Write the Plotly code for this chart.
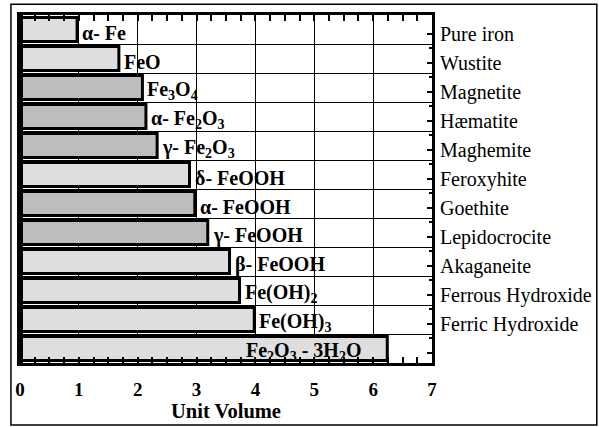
import plotly.graph_objects as go

formulas = ["α- Fe", "FeO", "Fe<sub>3</sub>O<sub>4</sub>", "α- Fe<sub>2</sub>O<sub>3</sub>",
            "γ- Fe<sub>2</sub>O<sub>3</sub>", "δ- FeOOH", "α- FeOOH", "γ- FeOOH",
            "β- FeOOH", "Fe(OH)<sub>2</sub>", "Fe(OH)<sub>3</sub>",
            "Fe<sub>2</sub>O<sub>3</sub> - 3H<sub>2</sub>O"]
names = ["Pure iron", "Wustite", "Magnetite", "Hæmatite", "Maghemite", "Feroxyhite",
         "Goethite", "Lepidocrocite", "Akaganeite", "Ferrous Hydroxide",
         "Ferric Hydroxide", ""]
volumes = [0.97, 1.68, 2.08, 2.14, 2.33, 2.88, 2.97, 3.19, 3.56, 3.73, 3.98, 6.24]
shade = ["light", "light", "dark", "dark", "dark", "light", "dark", "dark",
         "light", "light", "light", "light"]

LIGHT = "#dedede"
DARK = "#bdbdbd"
FONT = "Liberation Serif"

rows = list(range(len(volumes)))
colors = [LIGHT if s == "light" else DARK for s in shade]

fig = go.Figure()
fig.add_trace(go.Bar(
    x=volumes, y=rows, orientation="h", width=0.82,
    marker=dict(color=colors, line=dict(color="black", width=3)),
    showlegend=False, hoverinfo="skip",
))
fig.add_trace(go.Scatter(x=[None], y=[None], yaxis="y2", showlegend=False))

for i, (v, f) in enumerate(zip(volumes, formulas)):
    last = i == len(volumes) - 1
    fig.add_annotation(
        x=v, y=i, xref="x", yref="y", text="<b>" + f + "</b>", showarrow=False,
        xanchor="right" if last else "left", xshift=-24 if last else 3, yshift=-3,
        font=dict(family=FONT, size=20, color="black"),
    )

# plot area: x 20..432 px, y 15..363 px
fig.add_shape(type="rect", xref="paper", yref="paper",
              x0=-0.022, x1=1.4, y0=-0.178, y1=1.031,
              line=dict(color="black", width=1.5), fillcolor="rgba(0,0,0,0)")
fig.add_shape(type="line", xref="paper", yref="paper", x0=0, x1=0, y0=0, y1=1,
              line=dict(color="black", width=6))

rng = [len(volumes) - 0.5, -0.5]
rng2 = [len(volumes) - 0.64, -0.64]
fig.update_layout(
    width=599, height=427,
    margin=dict(l=20, r=167, t=15, b=64, autoexpand=False),
    paper_bgcolor="white", plot_bgcolor="white",
    font=dict(family=FONT, color="black"),
    xaxis=dict(
        range=[0, 7], tickvals=list(range(8)), showgrid=True, gridcolor="black",
        gridwidth=1.3, zeroline=False, showline=True, linecolor="black", linewidth=3,
        mirror="allticks", ticks="inside", ticklen=6, tickwidth=2, tickcolor="black",
        minor=dict(dtick=0.25, ticks="inside", ticklen=3, tickwidth=2, tickcolor="black",
                   showgrid=False),
        tickfont=dict(family=FONT, size=19, color="black", weight="bold"),
        ticklabelstandoff=7,
        title=dict(text="Unit Volume",
                   font=dict(family=FONT, size=20.5, color="black", weight="bold"),
                   standoff=2),
        automargin=False,
    ),
    yaxis=dict(
        range=rng, tickvals=[r + 0.5 for r in rows[:-1]], showticklabels=False,
        showgrid=True, gridcolor="black", gridwidth=1.3, zeroline=False,
        showline=True, linecolor="black", linewidth=3, mirror=True,
        ticks="", fixedrange=True, automargin=False,
    ),
    yaxis2=dict(
        range=rng2, overlaying="y", side="right", tickvals=rows, ticktext=names,
        showgrid=False, zeroline=False, ticks="inside", ticklen=5, tickwidth=2,
        tickcolor="black", ticklabelstandoff=7, automargin=False,
        tickfont=dict(family=FONT, size=20, color="black"),
        minor=dict(tickvals=[r + 0.5 for r in rows[:-1]], ticks="inside", ticklen=3,
                   tickwidth=2, tickcolor="black"),
    ),
)

fig.write_html("out.html", config={"displayModeBar": False},
               post_script="document.body.style.margin='0';document.body.style.overflow='hidden';")
